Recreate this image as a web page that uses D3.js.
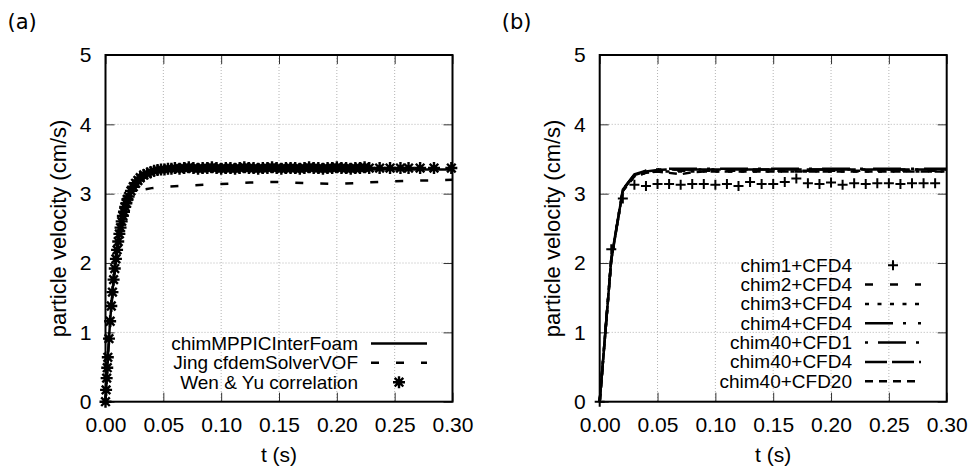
<!DOCTYPE html>
<html>
<head>
<meta charset="utf-8">
<script src="https://cdn.jsdelivr.net/npm/d3@7/dist/d3.min.js"></script>
<style>
  body { margin: 0; background: #fff; }
  svg text { font-family: "Liberation Sans", Arial, sans-serif; fill: #000; }
</style>
</head>
<body>
<svg id="chart" width="973" height="470"></svg>
<script>
// ---- shared ticks ----
const xTicks = [0, 0.05, 0.1, 0.15, 0.2, 0.25, 0.3];
const yTicks = [0, 1, 2, 3, 4, 5];

// ---- panel (a) ----
// Wen & Yu correlation (star markers)
const wenT = [
  0, 0.0005, 0.001, 0.0015, 0.002, 0.003, 0.004, 0.005, 0.006, 0.007, 0.008, 0.009,
  0.010, 0.011, 0.012, 0.013, 0.014, 0.015, 0.016, 0.017, 0.018, 0.019, 0.020,
  0.022, 0.024, 0.026, 0.028, 0.030, 0.033, 0.036, 0.039, 0.042, 0.045, 0.048,
  0.051, 0.054, 0.057,
  0.060, 0.064, 0.068, 0.072, 0.076, 0.080, 0.084, 0.088, 0.092, 0.096, 0.100,
  0.104, 0.108, 0.112, 0.116, 0.120, 0.124, 0.128, 0.132, 0.136, 0.140, 0.144,
  0.148, 0.152, 0.156, 0.160, 0.164, 0.168, 0.172, 0.176, 0.180, 0.184, 0.188,
  0.192, 0.196, 0.200, 0.204, 0.208, 0.212, 0.216, 0.220, 0.224, 0.228,
  0.237, 0.246, 0.255, 0.262, 0.272, 0.284, 0.299
];
const wenV = [
  0.00, 0.17, 0.34, 0.49, 0.64, 0.91, 1.16, 1.38, 1.58, 1.76, 1.92, 2.06,
  2.19, 2.31, 2.42, 2.51, 2.60, 2.68, 2.74, 2.81, 2.86, 2.92, 2.96,
  3.04, 3.10, 3.15, 3.19, 3.23, 3.27, 3.29, 3.31, 3.33, 3.34, 3.35,
  3.35, 3.36, 3.36,
  3.37, 3.36, 3.37, 3.38, 3.37, 3.36, 3.37, 3.37, 3.38, 3.37, 3.36,
  3.37, 3.37, 3.36, 3.37, 3.38, 3.37, 3.37, 3.36, 3.37, 3.37, 3.38,
  3.37, 3.36, 3.37, 3.37, 3.37, 3.36, 3.37, 3.38, 3.37, 3.37, 3.36,
  3.37, 3.37, 3.38, 3.37, 3.37, 3.36, 3.37, 3.37, 3.38, 3.37,
  3.37, 3.37, 3.37, 3.37, 3.37, 3.37, 3.37
];
// chimMPPICInterFoam (solid)
const mppicT = [0, 0.001, 0.002, 0.003, 0.004, 0.005, 0.006, 0.007, 0.008, 0.010, 0.012,
  0.014, 0.016, 0.018, 0.020, 0.022, 0.024, 0.026, 0.028, 0.030, 0.033, 0.036, 0.040,
  0.045, 0.050, 0.060, 0.080, 0.100, 0.150, 0.200, 0.250, 0.300];
const mppicV = [0, 0.34, 0.64, 0.91, 1.16, 1.38, 1.58, 1.76, 1.92, 2.19, 2.42,
  2.60, 2.74, 2.86, 2.96, 3.04, 3.10, 3.15, 3.19, 3.23, 3.27, 3.29, 3.32,
  3.34, 3.35, 3.35, 3.35, 3.35, 3.35, 3.35, 3.35, 3.35];
// Jing cfdemSolverVOF (dashed)
const jingT = [0, 0.002, 0.004, 0.006, 0.008, 0.010, 0.012, 0.015, 0.020, 0.025, 0.030,
  0.040, 0.050, 0.075, 0.100, 0.125, 0.150, 0.175, 0.200, 0.225, 0.250, 0.275, 0.300];
const jingV = [0, 0.62, 1.12, 1.55, 1.90, 2.18, 2.40, 2.65, 2.92, 3.02, 3.05,
  3.08, 3.10, 3.12, 3.14, 3.16, 3.17, 3.15, 3.14, 3.16, 3.18, 3.19, 3.20];

// ---- panel (b) ----
const tB = [0, 0.01, 0.02, 0.03, 0.04, 0.05, 0.06, 0.07, 0.08, 0.09, 0.10, 0.11, 0.12,
  0.13, 0.14, 0.15, 0.16, 0.17, 0.18, 0.19, 0.20, 0.21, 0.22, 0.23, 0.24, 0.25, 0.26,
  0.27, 0.28, 0.29, 0.30];
const chim1V = [0, 2.20, 2.93, 3.13, 3.11, 3.14, 3.14, 3.13, 3.14, 3.14, 3.13, 3.14, 3.11,
  3.17, 3.14, 3.14, 3.17, 3.22, 3.15, 3.14, 3.16, 3.13, 3.15, 3.14, 3.15, 3.15, 3.14,
  3.15, 3.15, 3.15];
const chim2V = [0, 2.05, 3.05, 3.26, 3.31, 3.32, 3.33, 3.33, 3.33, 3.33, 3.33, 3.33, 3.33,
  3.33, 3.33, 3.33, 3.33, 3.33, 3.33, 3.33, 3.33, 3.33, 3.33, 3.33, 3.33, 3.33, 3.33,
  3.33, 3.33, 3.33, 3.33];
const chim3V = [0, 2.05, 3.04, 3.25, 3.30, 3.32, 3.32, 3.32, 3.32, 3.32, 3.32, 3.32, 3.32,
  3.32, 3.32, 3.32, 3.32, 3.32, 3.32, 3.32, 3.32, 3.32, 3.32, 3.32, 3.32, 3.32, 3.32,
  3.32, 3.32, 3.32, 3.32];
const chim4V = [0, 2.06, 3.06, 3.27, 3.33, 3.35, 3.35, 3.35, 3.35, 3.35, 3.35, 3.35, 3.35,
  3.35, 3.35, 3.35, 3.35, 3.35, 3.35, 3.35, 3.35, 3.35, 3.35, 3.35, 3.35, 3.35, 3.35,
  3.35, 3.35, 3.35, 3.35];
const chim40cfd1V = [0, 2.06, 3.06, 3.28, 3.33, 3.35, 3.36, 3.36, 3.36, 3.36, 3.36, 3.36,
  3.36, 3.36, 3.36, 3.36, 3.36, 3.36, 3.36, 3.36, 3.36, 3.36, 3.36, 3.36, 3.36, 3.36,
  3.36, 3.36, 3.36, 3.36, 3.36];
const chim40cfd4V = [0, 2.05, 3.05, 3.27, 3.32, 3.34, 3.35, 3.35, 3.35, 3.35, 3.35, 3.35,
  3.35, 3.35, 3.35, 3.35, 3.35, 3.35, 3.35, 3.35, 3.35, 3.35, 3.35, 3.35, 3.35, 3.35,
  3.35, 3.35, 3.35, 3.35, 3.35];
const chim40cfd20V = [0, 2.04, 3.04, 3.25, 3.30, 3.32, 3.30, 3.28, 3.31, 3.32, 3.32, 3.32,
  3.32, 3.32, 3.32, 3.32, 3.32, 3.32, 3.32, 3.32, 3.32, 3.32, 3.32, 3.32, 3.32, 3.32,
  3.32, 3.32, 3.32, 3.32, 3.32];

// marker shapes
const starPath = "M-6,0H6M0,-6V6M-4.3,-4.3L4.3,4.3M-4.3,4.3L4.3,-4.3";
const plusPath = "M-5,0H5M0,-5V5";

const svg = d3.select("#chart");
const plotTop = 55, plotBottom = 401.7, plotW = 347;

const zip = (t, v) => t.slice(0, v.length).map((d, i) => ({ t: d, v: v[i] }));

const makePanel = ({ left, tag, legendRight, series }) => {
  const x = d3.scaleLinear().domain([0, 0.3]).range([left, left + plotW]);
  const y = d3.scaleLinear().domain([0, 5]).range([plotBottom, plotTop]);
  const g = svg.append("g");

  // grid
  g.append("g")
    .selectAll("line")
    .data(xTicks.slice(1, -1))
    .join("line")
    .attr("x1", (d) => x(d)).attr("x2", (d) => x(d))
    .attr("y1", plotTop).attr("y2", plotBottom)
    .attr("stroke", "#b4b4b4").attr("stroke-width", 1)
    .attr("stroke-dasharray", "1,2");
  g.append("g")
    .selectAll("line")
    .data(yTicks.slice(1, -1))
    .join("line")
    .attr("y1", (d) => y(d)).attr("y2", (d) => y(d))
    .attr("x1", left).attr("x2", left + plotW)
    .attr("stroke", "#b4b4b4").attr("stroke-width", 1)
    .attr("stroke-dasharray", "1,2");

  // axes, ticks pointing inward on every side
  const styleAxis = (a) => {
    a.select(".domain").remove();
    a.selectAll(".tick line").attr("stroke", "#333").attr("stroke-width", 1);
    a.selectAll(".tick text")
      .style("font-family", '"Liberation Sans", Arial, sans-serif')
      .style("font-size", "21px")
      .attr("fill", "#000");
  };
  g.append("g")
    .attr("transform", `translate(0,${plotBottom})`)
    .call(d3.axisBottom(x).tickValues(xTicks).tickFormat(d3.format(".2f"))
      .tickSizeInner(-9).tickSizeOuter(0).tickPadding(15.5))
    .call(styleAxis);
  g.append("g")
    .attr("transform", `translate(0,${plotTop})`)
    .call(d3.axisTop(x).tickValues(xTicks).tickFormat("").tickSizeInner(-9).tickSizeOuter(0))
    .call(styleAxis);
  g.append("g")
    .attr("transform", `translate(${left},0)`)
    .call(d3.axisLeft(y).tickValues(yTicks).tickFormat(d3.format("d"))
      .tickSizeInner(-9).tickSizeOuter(0).tickPadding(14))
    .call(styleAxis);
  g.append("g")
    .attr("transform", `translate(${left + plotW},0)`)
    .call(d3.axisRight(y).tickValues(yTicks).tickFormat("").tickSizeInner(-9).tickSizeOuter(0))
    .call(styleAxis);

  // frame
  g.append("rect")
    .attr("x", left).attr("y", plotTop)
    .attr("width", plotW).attr("height", plotBottom - plotTop)
    .attr("fill", "none").attr("stroke", "#000").attr("stroke-width", 2);

  // axis titles
  g.append("text")
    .attr("x", left + plotW / 2).attr("y", 462)
    .attr("text-anchor", "middle")
    .style("font-size", "21px")
    .text("t (s)");
  g.append("text")
    .attr("transform", `translate(${left - 40},${(plotTop + plotBottom) / 2}) rotate(-90)`)
    .attr("text-anchor", "middle")
    .style("font-size", "22px")
    .text("particle velocity (cm/s)");
  g.append("text")
    .attr("x", left - 98).attr("y", 29)
    .style("font-family", '"DejaVu Sans", sans-serif')
    .style("font-size", "21px")
    .text(tag);

  const line = d3.line().x((d) => x(d.t)).y((d) => y(d.v));

  series.forEach((s, i) => {
    const data = zip(s.t, s.v);
    if (s.marker) {
      g.append("g")
        .selectAll("path")
        .data(data)
        .join("path")
        .attr("transform", (d) => `translate(${x(d.t)},${y(d.v)})`)
        .attr("d", s.marker)
        .attr("stroke", "#000").attr("stroke-width", s.marker === starPath ? 2.4 : 2)
        .attr("fill", "none");
    } else {
      g.append("path")
        .datum(data)
        .attr("d", line)
        .attr("fill", "none").attr("stroke", "#000")
        .attr("stroke-width", 2.5)
        .attr("stroke-dasharray", s.dash || null);
    }

    // LEGEND row
    const by = legendRight.base + i * 19.35;
    g.append("text")
      .attr("x", legendRight.x).attr("y", by)
      .attr("text-anchor", "end")
      .style("font-size", "19px")
      .text(s.name);
    const sx0 = legendRight.x + 13, sx1 = legendRight.x + 69;
    if (s.marker) {
      g.append("path")
        .attr("transform", `translate(${(sx0 + sx1) / 2},${by - 6.5})`)
        .attr("d", s.marker)
        .attr("stroke", "#000").attr("stroke-width", s.marker === starPath ? 2.4 : 2)
        .attr("fill", "none");
    } else {
      g.append("line")
        .attr("x1", sx0).attr("x2", sx1)
        .attr("y1", by - 6.5).attr("y2", by - 6.5)
        .attr("stroke", "#000").attr("stroke-width", 2.5)
        .attr("stroke-dasharray", s.dash || null);
    }
  });
};

makePanel({
  left: 105.5,
  tag: "(a)",
  legendRight: { x: 358, base: 350 },
  series: [
    { name: "chimMPPICInterFoam", t: mppicT, v: mppicV },
    { name: "Jing cfdemSolverVOF", t: jingT, v: jingV, dash: "8,17" },
    { name: "Wen & Yu correlation", t: wenT, v: wenV, marker: starPath },
  ],
});

makePanel({
  left: 599.7,
  tag: "(b)",
  legendRight: { x: 852, base: 271.7 },
  series: [
    { name: "chim1+CFD4", t: tB, v: chim1V, marker: plusPath },
    { name: "chim2+CFD4", t: tB, v: chim2V, dash: "8,17" },
    { name: "chim3+CFD4", t: tB, v: chim3V, dash: "4,8.5" },
    { name: "chim4+CFD4", t: tB, v: chim4V, dash: "28,10,3,12,3,12" },
    { name: "chim40+CFD1", t: tB, v: chim40cfd1V, dash: "3,10,28,10" },
    { name: "chim40+CFD4", t: tB, v: chim40cfd4V, dash: "22,5" },
    { name: "chim40+CFD20", t: tB, v: chim40cfd20V, dash: "8,6" },
  ],
});
</script>
</body>
</html>
